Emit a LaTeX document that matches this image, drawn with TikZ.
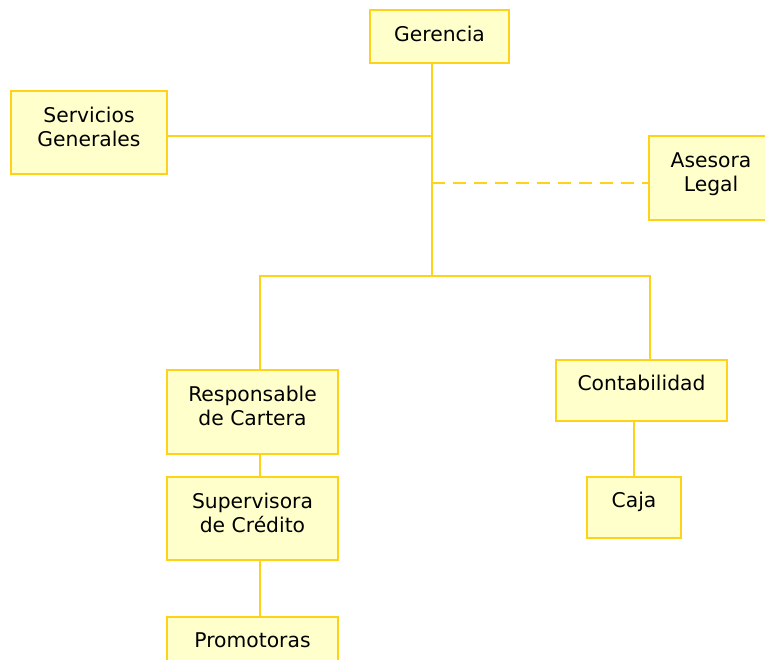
\documentclass[tikz,border=0pt]{standalone}
\usepackage{fontspec}
\setmainfont{DejaVu Sans}
\definecolor{boxfill}{HTML}{FFFFCC}
\definecolor{boxline}{HTML}{FFD21A}

\begin{document}
\begin{tikzpicture}[x=1pt,y=-1pt,
    every node/.style={font=\fontsize{20.3}{24}\selectfont},
    unit/.style={draw=boxline, fill=boxfill, line width=2.4pt, align=center, inner sep=0pt},
    oneline/.style={unit, text height=11pt, text depth=11pt},
    twoline/.style={unit, text depth=12pt},
    link/.style={boxline, line width=2.4pt},
    staff/.style={boxline, line width=2.4pt, dash pattern=on 13pt off 8pt}]
    \useasboundingbox (0,0) rectangle (765,659);
    % boxes
    \node[oneline, text height=16pt, text depth=6pt, minimum width=139pt, minimum height=53pt] (ger) at (439.5,36.5) {Gerencia};
    \node[twoline, minimum width=156pt, minimum height=83pt] (serv) at (89,132.5) {Servicios\\Generales};
    \node[twoline, minimum width=124pt, minimum height=84pt] (ases) at (711,178) {Asesora\\Legal};
    \node[twoline, minimum width=171pt, minimum height=84pt] (resp) at (252.5,412) {Responsable\\de Cartera};
    \node[twoline, minimum width=171pt, minimum height=83pt] (sup) at (252.5,518.5) {Supervisora\\de Crédito};
    \node[oneline, minimum width=171pt, minimum height=61pt] (prom) at (252.5,647.5) {Promotoras};
    \node[oneline, minimum width=171pt, minimum height=61pt] (cont) at (641.5,390.5) {Contabilidad};
    \node[oneline, minimum width=94pt, minimum height=61pt] (caja) at (634,507.5) {Caja};
    % trunk
    \coordinate (hub) at (432,276);
    \draw[link] (ger.south -| hub) -- (hub);
    \draw[link] (serv.east |- 0,136) -- (hub |- 0,136);
    \draw[staff] (hub |- 0,183) -- (ases.west |- 0,183);
    \draw[link] (resp.north -| 260,0) |- (hub) -| (cont.north -| 650,0);
    % lower lines
    \draw[link] (resp.south -| 260,0) -- (sup.north -| 260,0);
    \draw[link] (sup.south -| 260,0) -- (prom.north -| 260,0);
    \draw[link] (cont.south -| caja.north) -- (caja.north);
\end{tikzpicture}
\end{document}
